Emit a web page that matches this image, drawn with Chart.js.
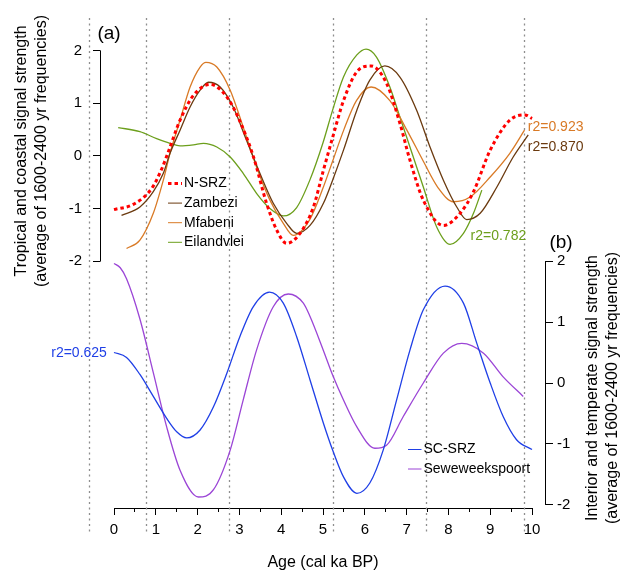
<!DOCTYPE html>
<html>
<head>
<meta charset="utf-8">
<script src="https://cdn.jsdelivr.net/npm/chart.js@4.4.1/dist/chart.umd.min.js"></script>
<style>
	html, body { margin: 0; padding: 0; background: #fff; }
	#wrap { width: 631px; height: 572px; }
</style>
</head>
<body>
<div id="wrap"><canvas id="grafico" width="631" height="572"></canvas></div>
<script>
// ages in cal ka BP
const nsrzAge = [0, 0.46, 0.9, 1.14, 1.3, 1.58, 1.9, 2.3, 2.7, 3.0, 3.33, 3.65, 3.9, 4.13, 4.45, 4.77, 5.0, 5.23, 5.49, 5.81, 6.15, 6.52, 6.84, 7.08, 7.4, 7.88, 8.28, 8.6, 9.0, 9.47, 9.83, 10];
const nsrzVal = [-1.02, -0.92, -0.62, -0.25, 0.08, 0.68, 1.15, 1.36, 1.12, 0.68, 0.0, -0.9, -1.42, -1.66, -1.47, -0.97, -0.3, 0.35, 1.05, 1.6, 1.71, 1.38, 0.62, -0.08, -0.84, -1.32, -1.09, -0.68, 0.11, 0.68, 0.78, 0.71];

const zambeziAge = [0.18, 0.62, 0.94, 1.18, 1.34, 1.58, 1.82, 2.06, 2.26, 2.54, 2.85, 3.17, 3.49, 3.81, 4.13, 4.37, 4.69, 5.01, 5.23, 5.49, 5.81, 6.12, 6.48, 6.84, 7.24, 7.56, 7.88, 8.2, 8.44, 8.76, 9.16, 9.55, 9.91];
const zambeziVal = [-1.13, -0.97, -0.68, -0.33, 0.05, 0.49, 0.93, 1.25, 1.4, 1.31, 0.93, 0.3, -0.33, -0.9, -1.28, -1.47, -1.32, -0.9, -0.46, 0.11, 0.87, 1.44, 1.71, 1.5, 0.87, 0.17, -0.46, -0.97, -1.21, -1.09, -0.59, -0.02, 0.4];

const mfabeniAge = [0.3, 0.62, 0.94, 1.18, 1.34, 1.58, 1.82, 2.06, 2.2, 2.46, 2.78, 3.09, 3.41, 3.73, 4.05, 4.29, 4.69, 5.0, 5.23, 5.5, 5.8, 6.15, 6.6, 7.0, 7.4, 7.75, 8.12, 8.52, 9.0, 9.47, 9.82];
const mfabeniVal = [-1.76, -1.6, -1.09, -0.46, 0.05, 0.68, 1.31, 1.69, 1.78, 1.69, 1.25, 0.55, -0.21, -0.84, -1.28, -1.51, -1.2, -0.61, -0.1, 0.5, 1.05, 1.31, 1.05, 0.5, -0.1, -0.6, -0.87, -0.78, -0.4, 0.05, 0.49];

const eilandAge = [0.1, 0.62, 1.02, 1.34, 1.58, 1.9, 2.14, 2.46, 2.78, 3.09, 3.41, 3.73, 4.05, 4.37, 4.69, 5.0, 5.23, 5.49, 5.81, 6.03, 6.28, 6.6, 6.84, 7.08, 7.4, 7.72, 8.04, 8.36, 8.6, 8.8];
const eilandVal = [0.54, 0.46, 0.33, 0.24, 0.19, 0.21, 0.24, 0.17, -0.02, -0.33, -0.71, -1.0, -1.14, -0.98, -0.45, 0.25, 0.87, 1.5, 1.92, 2.03, 1.88, 1.31, 0.74, 0.17, -0.59, -1.35, -1.68, -1.47, -1.09, -0.65];

const scsrzAge = [0, 0.3, 0.62, 0.94, 1.26, 1.5, 1.74, 2.06, 2.38, 2.7, 3.01, 3.33, 3.72, 4.05, 4.37, 4.69, 5.01, 5.23, 5.49, 5.81, 6.12, 6.44, 6.76, 7.08, 7.4, 7.92, 8.36, 8.68, 9.0, 9.31, 9.63, 10];
const scsrzVal = [0.5, 0.42, 0.14, -0.22, -0.58, -0.8, -0.9, -0.77, -0.39, 0.16, 0.76, 1.25, 1.49, 1.31, 0.76, 0.05, -0.66, -1.1, -1.54, -1.81, -1.64, -1.1, -0.28, 0.54, 1.2, 1.59, 1.31, 0.65, 0.0, -0.55, -0.93, -1.09];

const sewAge = [0, 0.15, 0.3, 0.62, 0.94, 1.26, 1.58, 2.02, 2.38, 2.78, 3.09, 3.41, 3.81, 4.17, 4.53, 4.69, 5.0, 5.23, 5.49, 5.81, 6.24, 6.52, 6.92, 7.4, 7.88, 8.32, 8.84, 9.31, 9.79];
const sewVal = [1.96, 1.89, 1.71, 1.05, 0.17, -0.72, -1.43, -1.87, -1.75, -1.1, -0.28, 0.54, 1.25, 1.46, 1.31, 1.09, 0.55, 0.13, -0.28, -0.72, -1.07, -1.02, -0.55, 0.0, 0.49, 0.65, 0.49, 0.1, -0.22];

// dotted vertical lines (ages)
const markerAges = [-0.6, 0.76, 2.75, 5.23, 7.46, 9.82];

const topTicks = [-2, -1, 0, 1, 2];
const bottomTicks = [-2, -1, 0, 1, 2];

const topLegend = ["N-SRZ", "Zambezi", "Mfabeni", "Eilandvlei"];
const bottomLegend = ["SC-SRZ", "Seweweekspoort"];

const r2Labels = [
	{ text: "r2=0.923", serie: "Mfabeni", x: 9.9, y: 0.54, eje: "yT", align: "left" },
	{ text: "r2=0.870", serie: "Zambezi", x: 9.9, y: 0.17, eje: "yT", align: "left" },
	{ text: "r2=0.782", serie: "Eilandvlei", x: 8.53, y: -1.52, eje: "yT", align: "left" },
	{ text: "r2=0.625", serie: "SC-SRZ", x: -0.17, y: 0.49, eje: "yB", align: "right" },
];

const fuente = "'Liberation Sans', Arial, Helvetica, sans-serif";
Chart.defaults.font.family = fuente;
Chart.defaults.color = "#000";

function puntos(ages, vals) {
	return ages.map((a, i) => ({ x: a, y: vals[i] }));
}

const decor = {
	id: "decor",
	beforeDatasetsDraw(chart) {
		const { ctx } = chart;
		const x = chart.scales.x;
		ctx.save();
		ctx.strokeStyle = "#8e8e8e";
		ctx.lineWidth = 1.3;
		ctx.setLineDash([2, 3.5]);
		markerAges.forEach((a) => {
			const px = Math.round(x.getPixelForValue(a)) + 0.5;
			ctx.beginPath();
			ctx.moveTo(px, 18);
			ctx.lineTo(px, 535);
			ctx.stroke();
		});
		ctx.restore();
	},
	afterDraw(chart) {
		const { ctx, chartArea } = chart;
		const yT = chart.scales.yT;
		const yB = chart.scales.yB;
		const x = chart.scales.x;
		const sets = chart.data.datasets;
		ctx.save();

		// detached y axis lines
		ctx.strokeStyle = "#000";
		ctx.lineWidth = 1;
		ctx.beginPath();
		ctx.moveTo(chartArea.left - 13.5, yT.getPixelForValue(2));
		ctx.lineTo(chartArea.left - 13.5, yT.getPixelForValue(-2));
		ctx.moveTo(chartArea.right + 13.5, yB.getPixelForValue(2));
		ctx.lineTo(chartArea.right + 13.5, yB.getPixelForValue(-2));
		ctx.stroke();

		// axis titles
		ctx.fillStyle = "#000";
		ctx.font = "16px " + fuente;
		ctx.textAlign = "center";
		ctx.textBaseline = "middle";
		const titulo = (lines, cx, cy) => {
			ctx.save();
			ctx.translate(cx, cy);
			ctx.rotate(-Math.PI / 2);
			lines.forEach((t, i) => ctx.fillText(t, 0, i * 20));
			ctx.restore();
		};
		titulo(["Tropical and coastal signal strength", "(average of 1600-2400 yr frequencies)"], 22, 151);
		titulo(["Interior and temperate signal strength", "(average of 1600-2400 yr frequencies)"], 593, 388);

		// panel letters
		ctx.font = "19px " + fuente;
		ctx.fillText("(a)", 109, 33.5);
		ctx.fillText("(b)", 561, 243);

		// legends
		const leyenda = (nombres, lx, ly, largo, paso) => {
			nombres.forEach((n, i) => {
				const ds = sets.find((d) => d.label === n);
				const yy = ly + i * paso;
				ctx.save();
				ctx.strokeStyle = ds.borderColor;
				ctx.lineWidth = ds.borderWidth;
				ctx.setLineDash(ds.borderDash || []);
				ctx.beginPath();
				ctx.moveTo(lx, yy);
				ctx.lineTo(lx + largo, yy);
				ctx.stroke();
				ctx.restore();
				ctx.font = "14px " + fuente;
				ctx.textAlign = "left";
				ctx.fillStyle = "#000";
				ctx.fillText(n, lx + largo + 2, yy);
			});
		};
		leyenda(topLegend, 168, 183.5, 14, 19.6);
		leyenda(bottomLegend, 408, 449.5, 13.5, 19.5);

		// r2 labels
		ctx.font = "14px " + fuente;
		r2Labels.forEach((l) => {
			const ds = sets.find((d) => d.label === l.serie);
			ctx.fillStyle = ds.borderColor;
			ctx.textAlign = l.align;
			ctx.fillText(l.text, x.getPixelForValue(l.x), chart.scales[l.eje].getPixelForValue(l.y));
		});
		ctx.restore();
	},
};

const ctx = document.getElementById("grafico");
const grafico = new Chart(ctx, {
	type: "line",
	data: {
		datasets: [
			{ label: "N-SRZ", data: puntos(nsrzAge, nsrzVal), yAxisID: "yT", borderColor: "#ff0000", borderWidth: 3, borderDash: [3.5, 3] },
			{ label: "Zambezi", data: puntos(zambeziAge, zambeziVal), yAxisID: "yT", borderColor: "#6b3a0f" },
			{ label: "Mfabeni", data: puntos(mfabeniAge, mfabeniVal), yAxisID: "yT", borderColor: "#d97a26" },
			{ label: "Eilandvlei", data: puntos(eilandAge, eilandVal), yAxisID: "yT", borderColor: "#6c9f1c" },
			{ label: "SC-SRZ", data: puntos(scsrzAge, scsrzVal), yAxisID: "yB", borderColor: "#1f3fe6" },
			{ label: "Seweweekspoort", data: puntos(sewAge, sewVal), yAxisID: "yB", borderColor: "#9b45d6" },
		],
	},
	options: {
		responsive: false,
		devicePixelRatio: 1,
		animation: false,
		layout: { padding: { top: 50.7, left: 0, right: 0, bottom: 0 } },
		plugins: {
			legend: { display: false },
			tooltip: { enabled: false },
		},
		elements: {
			point: { radius: 0 },
			line: { borderWidth: 1.3, cubicInterpolationMode: "monotone", fill: false },
		},
		datasets: { line: { clip: false } },
		scales: {
			x: {
				type: "linear",
				position: "bottom",
				min: 0,
				max: 10,
				afterFit: (s) => { s.height = 64; },
				ticks: { stepSize: 1, font: { size: 15 }, padding: 6, maxRotation: 0, autoSkip: false, includeBounds: false },
				grid: { drawOnChartArea: false, color: "#000", tickLength: 7, tickWidth: 1 },
				border: { display: true, color: "#000", width: 1 },
				title: { display: true, text: "Age (cal ka BP)", font: { size: 16, lineHeight: 1.125 }, padding: 0 },
			},
			xMinor: {
				type: "linear",
				axis: "x",
				position: { yB: -2.05 },
				min: 0,
				max: 10,
				ticks: { stepSize: 0.5, display: false },
				grid: { drawOnChartArea: false, color: "#000", tickLength: 4, tickWidth: 1 },
				border: { display: false },
			},
			yT: {
				type: "linear",
				position: "left",
				min: -6.69,
				max: 2,
				afterFit: (s) => { s.width = 114; },
				afterBuildTicks: (s) => { s.ticks = s.ticks.filter((t) => topTicks.includes(t.value)); },
				ticks: { stepSize: 1, font: { size: 15 }, padding: 11, includeBounds: false },
				grid: { drawOnChartArea: false, color: "#000", tickLength: 21, tickBorderDash: [7.5, 13.5] },
				border: { display: false },
			},
			yB: {
				type: "linear",
				position: "right",
				min: -2.05,
				max: 5.45,
				afterFit: (s) => { s.width = 99; },
				afterBuildTicks: (s) => { s.ticks = s.ticks.filter((t) => bottomTicks.includes(t.value)); },
				ticks: { stepSize: 1, font: { size: 15 }, padding: 4, includeBounds: false },
				grid: { drawOnChartArea: false, color: "#000", tickLength: 21, tickBorderDash: [7.5, 13.5], tickBorderDashOffset: 7.5 },
				border: { display: false },
			},
		},
	},
	plugins: [decor],
});
</script>
</body>
</html>
